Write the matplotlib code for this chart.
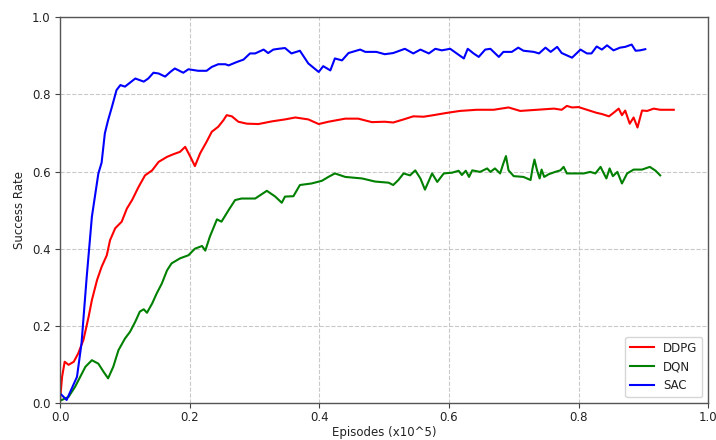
import matplotlib
matplotlib.use("Agg")
from matplotlib import pyplot as plt

# DDPG
ddpg_x = [0.0, 0.003, 0.007, 0.013, 0.021, 0.028, 0.036, 0.044, 0.049, 0.057,
          0.064, 0.072, 0.077, 0.085, 0.095, 0.103, 0.111, 0.121, 0.131, 0.142,
          0.152, 0.165, 0.175, 0.185, 0.193, 0.201, 0.208, 0.216, 0.226, 0.234,
          0.244, 0.252, 0.257, 0.265, 0.275, 0.288, 0.306, 0.327, 0.347, 0.363,
          0.383, 0.399, 0.414, 0.44, 0.46, 0.481, 0.501, 0.514, 0.53, 0.545,
          0.561, 0.576, 0.597, 0.617, 0.643, 0.669, 0.692, 0.71, 0.736, 0.762,
          0.774, 0.782, 0.79, 0.8, 0.813, 0.828, 0.836, 0.847, 0.854, 0.862,
          0.867, 0.872, 0.879, 0.885, 0.891, 0.898, 0.906, 0.916, 0.926, 0.947]
ddpg_y = [0.01, 0.068, 0.107, 0.099, 0.107, 0.129, 0.164, 0.224, 0.267, 0.319,
          0.353, 0.383, 0.422, 0.453, 0.47, 0.504, 0.526, 0.56, 0.59, 0.603,
          0.625, 0.638, 0.645, 0.651, 0.664, 0.638, 0.614, 0.647, 0.677, 0.703,
          0.716, 0.733, 0.746, 0.743, 0.729, 0.724, 0.723, 0.73, 0.735, 0.74,
          0.735, 0.723, 0.729, 0.737, 0.737, 0.728, 0.729, 0.727, 0.735, 0.743,
          0.742, 0.746, 0.752, 0.757, 0.76, 0.76, 0.766, 0.757, 0.76, 0.763,
          0.76, 0.77, 0.766, 0.767, 0.76, 0.752, 0.749, 0.743, 0.752, 0.763,
          0.746, 0.758, 0.724, 0.74, 0.714, 0.758, 0.757, 0.763, 0.76, 0.76]

# DQN
dqn_x = [0.0, 0.013, 0.023, 0.031, 0.039, 0.049, 0.059, 0.067, 0.074, 0.082,
         0.09, 0.1, 0.108, 0.116, 0.123, 0.129, 0.134, 0.142, 0.149, 0.157,
         0.165, 0.172, 0.185, 0.198, 0.208, 0.219, 0.224, 0.231, 0.242, 0.249,
         0.26, 0.27, 0.28, 0.301, 0.319, 0.332, 0.342, 0.347, 0.36, 0.37,
         0.388, 0.404, 0.414, 0.424, 0.44, 0.466, 0.486, 0.507, 0.514, 0.522,
         0.53, 0.54, 0.548, 0.556, 0.563, 0.574, 0.582, 0.592, 0.605, 0.615,
         0.62, 0.626, 0.631, 0.636, 0.648, 0.659, 0.664, 0.671, 0.679, 0.684,
         0.688, 0.692, 0.7, 0.715, 0.726, 0.729, 0.732, 0.736, 0.74, 0.743,
         0.747, 0.754, 0.764, 0.772, 0.777, 0.782, 0.795, 0.808, 0.818, 0.826,
         0.834, 0.839, 0.843, 0.848, 0.853, 0.86, 0.867, 0.875, 0.885, 0.898,
         0.91, 0.919, 0.926]
dqn_y = [0.006, 0.016, 0.042, 0.068, 0.094, 0.111, 0.102, 0.081, 0.064, 0.094,
         0.137, 0.167, 0.185, 0.211, 0.237, 0.243, 0.234, 0.258, 0.284, 0.31,
         0.344, 0.362, 0.375, 0.383, 0.4, 0.407, 0.395, 0.431, 0.476, 0.47,
         0.5, 0.526, 0.53, 0.53, 0.55, 0.535, 0.519, 0.535, 0.536, 0.565,
         0.569, 0.576, 0.586, 0.595, 0.586, 0.582, 0.574, 0.571, 0.565, 0.578,
         0.595, 0.59, 0.603, 0.582, 0.553, 0.595, 0.573, 0.595, 0.597, 0.602,
         0.591, 0.602, 0.586, 0.603, 0.599, 0.608, 0.599, 0.608, 0.595, 0.621,
         0.64, 0.603, 0.588, 0.586, 0.578, 0.608, 0.631, 0.603, 0.582, 0.605,
         0.586, 0.593, 0.599, 0.603, 0.612, 0.595, 0.595, 0.595, 0.599, 0.595,
         0.612, 0.595, 0.582, 0.608, 0.588, 0.599, 0.569, 0.595, 0.605, 0.605,
         0.612, 0.602, 0.59]

# SAC
sac_x = [0.0, 0.01, 0.026, 0.033, 0.041, 0.049, 0.059, 0.064, 0.069, 0.074,
         0.08, 0.087, 0.093, 0.1, 0.116, 0.129, 0.136, 0.144, 0.152, 0.162,
         0.17, 0.177, 0.19, 0.198, 0.213, 0.226, 0.234, 0.244, 0.255, 0.26,
         0.273, 0.283, 0.293, 0.301, 0.314, 0.321, 0.329, 0.337, 0.347, 0.357,
         0.37, 0.383, 0.399, 0.406, 0.417, 0.424, 0.435, 0.445, 0.463, 0.471,
         0.488, 0.501, 0.514, 0.532, 0.545, 0.556, 0.569, 0.579, 0.589, 0.602,
         0.612, 0.623, 0.629, 0.638, 0.646, 0.656, 0.664, 0.677, 0.684, 0.697,
         0.707, 0.715, 0.731, 0.739, 0.749, 0.757, 0.767, 0.774, 0.79, 0.803,
         0.813, 0.82, 0.828, 0.836, 0.844, 0.854, 0.864, 0.872, 0.882, 0.888,
         0.895, 0.903]
sac_y = [0.025, 0.008, 0.068, 0.155, 0.327, 0.483, 0.595, 0.623, 0.699, 0.733,
         0.768, 0.811, 0.824, 0.82, 0.841, 0.833, 0.841, 0.856, 0.854, 0.846,
         0.858, 0.867, 0.856, 0.865, 0.861, 0.861, 0.871, 0.878, 0.878, 0.875,
         0.884, 0.89, 0.906, 0.906, 0.916, 0.907, 0.916, 0.918, 0.92, 0.906,
         0.913, 0.88, 0.858, 0.873, 0.862, 0.893, 0.888, 0.907, 0.916, 0.91,
         0.91, 0.904, 0.907, 0.918, 0.906, 0.916, 0.906, 0.918, 0.914, 0.918,
         0.906, 0.893, 0.918, 0.906, 0.897, 0.916, 0.918, 0.897, 0.91, 0.91,
         0.921, 0.913, 0.91, 0.906, 0.921, 0.91, 0.923, 0.907, 0.895, 0.916,
         0.906, 0.906, 0.924, 0.916, 0.927, 0.914, 0.921, 0.923, 0.929, 0.913,
         0.914, 0.917]


def main():
    plt.rcParams["font.size"] = 8.5
    plt.rcParams["text.color"] = "#222222"
    plt.rcParams["xtick.color"] = "#444444"
    plt.rcParams["ytick.color"] = "#444444"
    plt.rcParams["xtick.labelcolor"] = "#222222"
    plt.rcParams["ytick.labelcolor"] = "#222222"
    plt.rcParams["axes.labelcolor"] = "#222222"

    fig = plt.figure(figsize=(7.16, 4.4), dpi=100)
    ax = fig.add_axes([0.084, 0.084, 0.905, 0.877])

    ax.plot(ddpg_x, ddpg_y, color="red", linewidth=1.5, label="DDPG")
    ax.plot(dqn_x, dqn_y, color="green", linewidth=1.5, label="DQN")
    ax.plot(sac_x, sac_y, color="blue", linewidth=1.5, label="SAC")

    ax.set_xlim(0, 1.0)
    ax.set_ylim(0, 1.0)
    ax.tick_params(axis="x", pad=2.5)
    ax.set_xlabel("Episodes (x10^5)", labelpad=1)
    ax.set_ylabel("Success Rate")
    ax.grid(True, linestyle="--", color="#bbbbbb", linewidth=0.8, alpha=0.8)
    for s in ax.spines.values():
        s.set_color("#555555")
        s.set_linewidth(1.0)
    ax.legend(loc="lower right", fontsize=8.5)

    fig.savefig("out.png", dpi=100)
    return 0


if __name__ == "__main__":
    main()
